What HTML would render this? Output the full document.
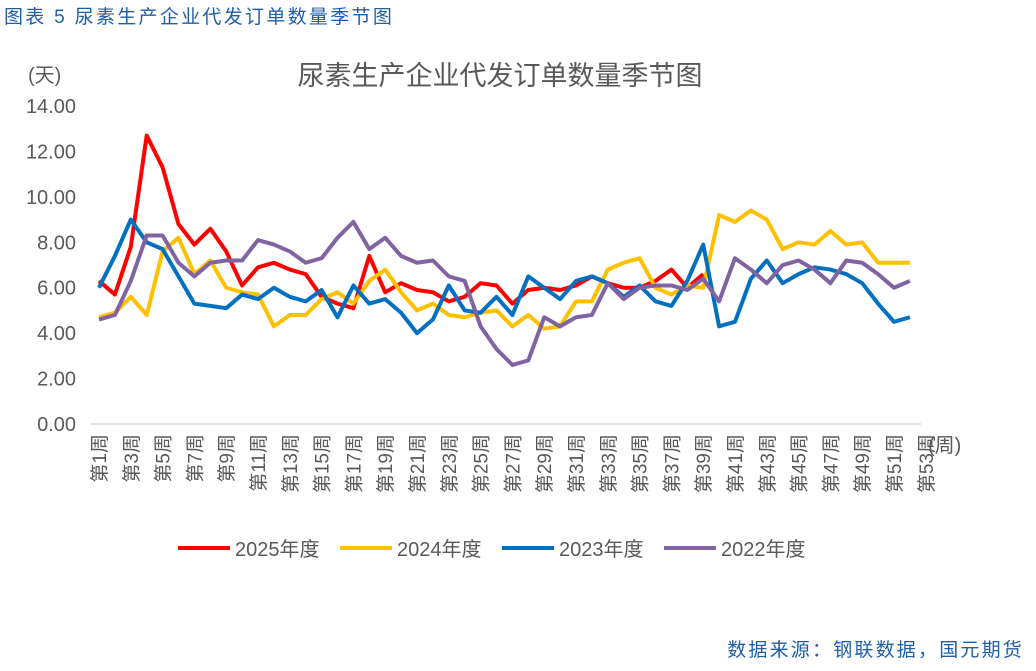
<!DOCTYPE html>
<html><head><meta charset="utf-8"><style>
body{margin:0;background:#fff;}
svg text{font-family:"Liberation Sans","Noto Sans CJK SC",sans-serif;}
</style></head><body>
<svg width="1036" height="666" xmlns="http://www.w3.org/2000/svg">
<text x="4" y="23" font-size="19" letter-spacing="2.3" fill="#1F5FA8">图表 5 尿素生产企业代发订单数量季节图</text>
<text x="500" y="85" font-size="27" fill="#595959" text-anchor="middle">尿素生产企业代发订单数量季节图</text>
<text x="28" y="82" font-size="20" fill="#595959">(天)</text>
<text x="928" y="452" font-size="20" fill="#595959">(周)</text>
<g id="yaxis"></g><g id="xaxis"></g><g id="series"></g><g id="legend"></g>
<text x="1024" y="656" font-size="19" letter-spacing="2.2" fill="#1F5FA8" text-anchor="end">数据来源：钢联数据，国元期货</text>
</svg>
<script>
const yTicks=[0,2,4,6,8,10,12,14];
const weeks=53;
const s2025=[6.3,5.7,7.8,12.7,11.3,8.8,7.9,8.6,7.6,6.1,6.9,7.1,6.8,6.6,5.6,5.3,5.1,7.4,5.8,6.2,5.9,5.8,5.4,5.6,6.2,6.1,5.3,5.9,6.0,5.9,6.1,6.5,6.2,6.0,6.0,6.3,6.8,6.0,6.6];
const s2024=[4.7,4.9,5.6,4.8,7.6,8.2,6.6,7.2,6.0,5.8,5.7,4.3,4.8,4.8,5.5,5.8,5.3,6.3,6.8,5.8,5.0,5.3,4.8,4.7,4.9,5.0,4.3,4.8,4.2,4.3,5.4,5.4,6.8,7.1,7.3,6.0,5.7,6.1,6.0,9.2,8.9,9.4,9.0,7.7,8.0,7.9,8.5,7.9,8.0,7.1,7.1,7.1];
const s2023=[6.0,7.4,9.0,8.0,7.7,6.5,5.3,5.2,5.1,5.7,5.5,6.0,5.6,5.4,5.9,4.7,6.1,5.3,5.5,4.9,4.0,4.6,6.1,5.0,4.9,5.6,4.8,6.5,6.0,5.5,6.3,6.5,6.2,5.6,6.1,5.4,5.2,6.3,7.9,4.3,4.5,6.4,7.2,6.2,6.6,6.9,6.8,6.6,6.2,5.3,4.5,4.7];
const s2022=[4.6,4.8,6.3,8.3,8.3,7.1,6.5,7.1,7.2,7.2,8.1,7.9,7.6,7.1,7.3,8.2,8.9,7.7,8.2,7.4,7.1,7.2,6.5,6.3,4.3,3.3,2.6,2.8,4.7,4.3,4.7,4.8,6.2,5.5,6.0,6.1,6.1,5.9,6.4,5.4,7.3,6.8,6.2,7.0,7.2,6.8,6.2,7.2,7.1,6.6,6.0,6.3];
const seriesNames=["2025年度","2024年度","2023年度","2022年度"];
const seriesColors=["#FF0000","#FFC000","#0070C0","#8064A2"];
const NS="http://www.w3.org/2000/svg";
const x=w=>99+(w-1)*15.9;
const y=v=>424-v*22.71;
function mk(tag,attrs,parent,txt){const e=document.createElementNS(NS,tag);for(const k in attrs)e.setAttribute(k,attrs[k]);if(txt!==undefined)e.textContent=txt;parent.appendChild(e);return e;}
const ya=document.getElementById('yaxis');
yTicks.forEach(v=>{const t=mk('text',{x:76,y:y(v)+7,'font-size':20,fill:'#595959','text-anchor':'end'},ya,v.toFixed(2));

});
const xa=document.getElementById('xaxis');
const axl=mk('line',{x1:91,x2:921,y1:424,y2:424,stroke:'#BFBFBF','stroke-width':1},xa);


for(let w=1;w<=weeks;w+=2){const xx=x(w)+7;const t=mk('text',{x:xx,y:434,'font-size':19,fill:'#595959','text-anchor':'end',transform:`rotate(-90 ${xx} 434)`},xa,'第'+w+'周');

}
const sg=document.getElementById('series');
[s2025,s2024,s2023,s2022].forEach((d,i)=>{
 const p=mk('polyline',{points:d.map((v,j)=>x(j+1)+','+y(v)).join(' '),fill:'none',stroke:seriesColors[i],'stroke-width':4,'stroke-linejoin':'round'},sg);
 
 
});
const lg=document.getElementById('legend');
const lx=[178,340,502,664];
seriesNames.forEach((n,i)=>{
 const g=mk('g',{},lg);
 
 
 mk('line',{x1:lx[i],x2:lx[i]+52,y1:548,y2:548,stroke:seriesColors[i],'stroke-width':4},g);
 mk('text',{x:lx[i]+57,y:556,'font-size':20,fill:'#595959'},g,n);
});
</script>
</body></html>
